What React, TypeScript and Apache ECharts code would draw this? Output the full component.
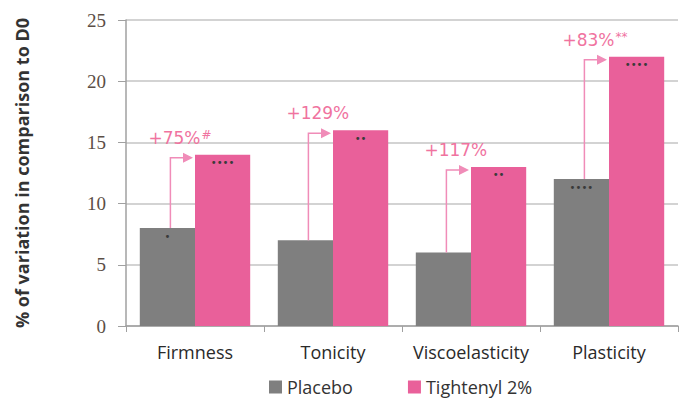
import React, { useEffect, useRef } from "react";
import * as echarts from "echarts";

const categories = ["Firmness", "Tonicity", "Viscoelasticity", "Plasticity"];
const placebo = [8, 7, 6, 12];
const tightenyl = [14, 16, 13, 22];
const placeboStars = ["*", "", "", "****"];
const tightenylStars = ["****", "**", "**", "****"];
const gainMain = ["+75%", "+129%", "+117%", "+83%"];
const gainSup = ["#", "", "", "**"];
const yTicks = [0, 5, 10, 15, 20, 25];

const GRAY = "#7f7f7f";
const PINK = "#e9609a";
const ARROW = "#f08cb8";
const TEXTPINK = "#f0739f";

export default function App() {
  const ref = useRef<HTMLDivElement>(null);
  useEffect(() => {
    if (!ref.current) return;
    const chart = echarts.init(ref.current, undefined, { renderer: "svg" });
    const dots = (s: string) => s.replace(/\*/g, "•");
    const starLabel = (arr: string[]) => ({
      show: true,
      position: "insideTop",
      distance: 3,
      fontFamily: "DejaVu Sans",
      fontSize: 10,
      color: "#3a3a3a",
      formatter: (p: any) => dots(arr[p.dataIndex]),
    });
    chart.setOption({
      animation: false,
      backgroundColor: "#ffffff",
      grid: { left: 126, right: 4, top: 20, bottom: 74 },
      legend: {
        top: 373,
        left: 264,
        itemWidth: 13,
        itemHeight: 13,
        itemGap: 55,
        icon: "rect",
        textStyle: { fontFamily: "Open Sans", fontSize: 18, color: "#333" },
        data: ["Placebo", "Tightenyl 2%"],
      },
      xAxis: {
        type: "category",
        data: categories,
        axisLine: { lineStyle: { color: "#a0a0a0", width: 1.5 } },
        axisTick: { show: true, length: 6, lineStyle: { color: "#a0a0a0" } },
        axisLabel: {
          interval: 0,
          hideOverlap: false,
          fontFamily: "Open Sans",
          fontSize: 18,
          color: "#2a2a2a",
          margin: 17,
        },
      },
      yAxis: {
        type: "value",
        min: yTicks[0],
        max: yTicks[yTicks.length - 1],
        interval: 5,
        name: "% of variation in comparison to D0",
        nameLocation: "middle",
        nameGap: 95,
        nameTextStyle: {
          fontFamily: "Open Sans",
          fontWeight: "bold",
          fontSize: 18,
          color: "#333",
        },
        axisLine: { show: true, lineStyle: { color: "#a0a0a0", width: 1.5 } },
        axisTick: { show: true, length: 8, lineStyle: { color: "#a0a0a0" } },
        axisLabel: {
          fontFamily: "Liberation Serif",
          fontSize: 19,
          color: "#5b4e46",
          margin: 20,
        },
        splitLine: { lineStyle: { color: "#c4c4c4", width: 1.5 } },
      },
      series: [
        {
          name: "Placebo",
          type: "bar",
          data: placebo,
          barGap: "0%",
          barCategoryGap: "20%",
          itemStyle: { color: GRAY },
          label: starLabel(placeboStars),
        },
        {
          name: "Tightenyl 2%",
          type: "bar",
          data: tightenyl,
          itemStyle: { color: PINK },
          label: starLabel(tightenylStars),
        },
        {
          type: "custom",
          name: "gain",
          data: categories.map((_, i) => [i, placebo[i], tightenyl[i]]),
          z: 10,
          renderItem: (params: any, api: any) => {
            const idx = api.value(0);
            const p = api.value(1);
            const t = api.value(2);
            const band = api.size([1, 0])[0];
            const cx = api.coord([idx, 0])[0];
            const vx = cx - band * 0.2 + 3;
            const y0 = api.coord([idx, p])[1];
            const y1 = api.coord([idx, t])[1] + 3;
            const x1 = cx - 2;
            return {
              type: "group",
              children: [
                {
                  type: "polyline",
                  shape: { points: [[vx, y0], [vx, y1], [x1 - 8, y1]] },
                  style: { stroke: ARROW, lineWidth: 1.5, fill: "none" },
                },
                {
                  type: "polygon",
                  shape: { points: [[x1, y1], [x1 - 10, y1 - 5], [x1 - 10, y1 + 5]] },
                  style: { fill: ARROW },
                },
                {
                  type: "text",
                  x: vx - 22,
                  y: y1 - 20,
                  style: {
                    text: "{m|" + gainMain[idx] + "}" + (gainSup[idx] ? "{s|" + gainSup[idx] + "}" : ""),
                    verticalAlign: "middle",
                    align: "left",
                    rich: {
                      m: { fontFamily: "DejaVu Sans", fontSize: 17, fill: TEXTPINK, color: TEXTPINK },
                      s: { fontFamily: "DejaVu Sans", fontSize: 12, fill: TEXTPINK, color: TEXTPINK, verticalAlign: "top", padding: [0, 0, 6, 1] },
                    },
                  },
                },
              ],
            };
          },
        },
      ],
    });
    return () => chart.dispose();
  }, []);
  return (
    <div
      ref={ref}
      style={{ position: "fixed", left: 0, top: 0, width: 682, height: 400 }}
    />
  );
}
